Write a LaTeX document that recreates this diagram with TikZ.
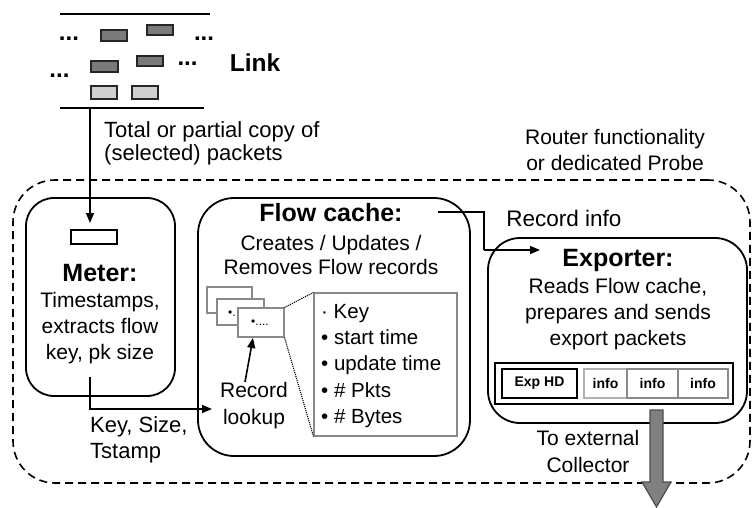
\documentclass[tikz,border=0pt]{standalone}
\usepackage{fontspec}
\setmainfont{Liberation Sans}
\usetikzlibrary{arrows.meta,calc}
\definecolor{pkdark}{HTML}{7A7A7A}
\definecolor{pklight}{HTML}{CFCFCF}
\definecolor{edgegray}{HTML}{8A8A8A}
\definecolor{bigarrow}{HTML}{808080}
\begin{document}
\begin{tikzpicture}[x=1pt,y=-1pt,
  body/.style={font=\fontsize{21}{26}\selectfont, align=center, inner sep=0pt},
  titletext/.style={font=\fontsize{25}{30}\bfseries\selectfont, inner sep=0pt},
  box/.style={draw, line width=1.8pt, rounded corners=#1, inner sep=0pt},
  box/.default=30pt,
  arr/.style={line width=1.6pt, -{Triangle[length=10pt,width=8pt]}},
  pkt/.style={draw=black!85, line width=1.2pt, fill=#1},
  dots/.style={font=\fontsize{24}{24}\bfseries\selectfont, inner sep=0pt, anchor=base},
  card/.style={draw=edgegray, line width=1.1pt, fill=white, minimum width=#1, inner sep=0pt},
  cell/.style={draw=edgegray, line width=1.1pt, inner sep=0pt, minimum height=29pt, font=\fontsize{14}{14}\bfseries\selectfont}
]
\useasboundingbox (0,0) rectangle (752,508);

% ---------- Link ----------
\draw[line width=2pt] (60,14) coordinate (ltopA) -- (210,14) coordinate (ltopB);
\draw[line width=2pt] (60,108) coordinate (lbotA) -- (204,108) coordinate (lbotB);
\node[pkt=pkdark, minimum width=26pt, minimum height=11pt, inner sep=0pt] (p1) at (114,35.5) {};
\node[pkt=pkdark, minimum width=26pt, minimum height=10pt, inner sep=0pt] (p2) at (160,30) {};
\node[pkt=pkdark, minimum width=27pt, minimum height=11pt, inner sep=0pt] (p3) at (104.5,66.5) {};
\node[pkt=pkdark, minimum width=26pt, minimum height=10pt, inner sep=0pt] (p4) at (150,61) {};
\node[pkt=pklight, minimum width=26pt, minimum height=13pt, inner sep=0pt] (p5) at (104,92.5) {};
\node[pkt=pklight, minimum width=26pt, minimum height=13pt, inner sep=0pt] (p6) at (145,92.5) {};
\node[dots] (d1) at (69,40.5) {...};
\node[dots] (d2) at (204,40.5) {...};
\node[dots] (d3) at (59.5,77.5) {...};
\node[dots] (d4) at (187.5,65.5) {...};
\node[font=\fontsize{24.5}{24.5}\bfseries\selectfont, inner sep=0pt] (link) at (255,63) {Link};

\node[body, font=\fontsize{22}{23}\selectfont, align=left, anchor=west] (copytxt) at (104,143) {Total or partial copy of\\(selected) packets};

% ---------- Outer dashed ----------
\node[draw, line width=1.6pt, dash pattern=on 8pt off 5pt, rounded corners=42pt,
      minimum width=737pt, minimum height=303pt, inner sep=0pt] (outer) at (381.5,331.5) {};
\node[body] (router) at (615,150) {Router functionality\\or dedicated Probe};

% ---------- Meter ----------
\node[box=28pt, minimum width=149pt, minimum height=198pt] (meter) at (100.5,297) {};
\node[draw, line width=1.3pt, minimum width=46pt, minimum height=14pt, inner sep=0pt] (msmall) at (94,237) {};
\node[titletext] (metertitle) at (100,273) {Meter:};
\node[body] (metertxt) at (100,328) {Timestamps,\\extracts flow\\key, pk size};

\coordinate (tapA) at (90,108);
\coordinate (tapB) at (90,223);
\draw[arr] (tapA) -- (tapB);

% ---------- Flow cache ----------
\node[box=36pt, minimum width=272pt, minimum height=258pt] (flow) at (334,327) {};
\node[titletext] (flowtitle) at (331,213) {Flow cache:};
\node[body, font=\fontsize{21}{24.5}\selectfont] (flowtxt) at (331,255) {Creates / Updates /\\Removes Flow records};

\node[card=45pt, minimum height=26pt] (card1) at (229.5,300) {};
\node[card=47pt, minimum height=26pt] (card2) at (240.5,312) {};
\node[font=\fontsize{12}{12}\selectfont, inner sep=0pt] (card2txt) at (232,314) {•.};
\node[card=46pt, minimum height=29pt] (card3) at (261,322.5) {};
\node[font=\fontsize{12}{12}\selectfont, inner sep=0pt] (card3txt) at (260,323) {•....};

\node[draw=edgegray, line width=1.1pt, minimum width=143pt, minimum height=143pt, inner sep=0pt] (detail) at (385.5,364.5) {};
\node[body, align=left, anchor=west, font=\fontsize{20.5}{26.2}\selectfont] (items) at (321,366)
  {· Key\\• start time\\• update time\\• \# Pkts\\• \# Bytes};
\draw[densely dotted, line width=1.1pt] (card3.north east) -- (detail.north west);
\draw[densely dotted, line width=1.1pt] (card3.south east) -- (detail.south west);

\node[body, font=\fontsize{21}{27}\selectfont] (lookup) at (254,406) {Record\\lookup};
\coordinate (lookA) at (245,382);
\coordinate (lookB) at (253,338);
\draw[arr] (lookA) -- (lookB);

% Meter -> Flow cache
\coordinate (ksA) at (90,377);
\coordinate (ksB) at (212,409);
\draw[arr] (ksA) |- (ksB);
\node[body, font=\fontsize{22}{26}\selectfont, align=left, anchor=west] (kstxt) at (90,440) {Key, Size,\\Tstamp};

% ---------- Exporter ----------
\node[box=32pt, minimum width=259pt, minimum height=185pt] (exporter) at (617.5,330.5) {};
\node[titletext] (exptitle) at (618,260) {Exporter:};
\node[body] (exptxt) at (618,314) {Reads Flow cache,\\prepares and sends\\export packets};

\node[draw, line width=1.3pt, minimum width=238pt, minimum height=41pt, inner sep=0pt] (packet) at (614,383.5) {};
\node[cell, draw=black, line width=1.6pt, minimum width=75pt] (exphd) at (539.5,383.5) {Exp HD};
\node[cell, draw=black!30, minimum width=43pt] (info1) at (605.5,383.5) {info};
\node[cell, minimum width=51pt] (info2) at (652.5,383.5) {info};
\node[cell, minimum width=50pt] (info3) at (703,383.5) {info};

% Flow cache -> Exporter
\coordinate (riA) at (438,212);
\coordinate (riB) at (484,250);
\coordinate (riC) at (540,250);
\draw[line width=1.6pt] (riA) -| (riB);
\draw[arr] (riB) -- (riC);
\node[body, font=\fontsize{22.5}{26}\selectfont] (ritxt) at (564,218) {Record info};

% To collector
\coordinate (colTop) at (656.5,410);
\coordinate (colTip) at (656.5,507);
\draw[fill=bigarrow, draw=black!70, line width=1.2pt]
  ($(colTop)+(-6.5,0)$) -- ($(colTop)+(6.5,0)$) -- (663,482) -- (671,482) -- (colTip)
  -- (642,482) -- (650,482) -- cycle;
\node[body, font=\fontsize{21}{27}\selectfont] (coltxt) at (588,451) {To external\\Collector};
\end{tikzpicture}
\end{document}
